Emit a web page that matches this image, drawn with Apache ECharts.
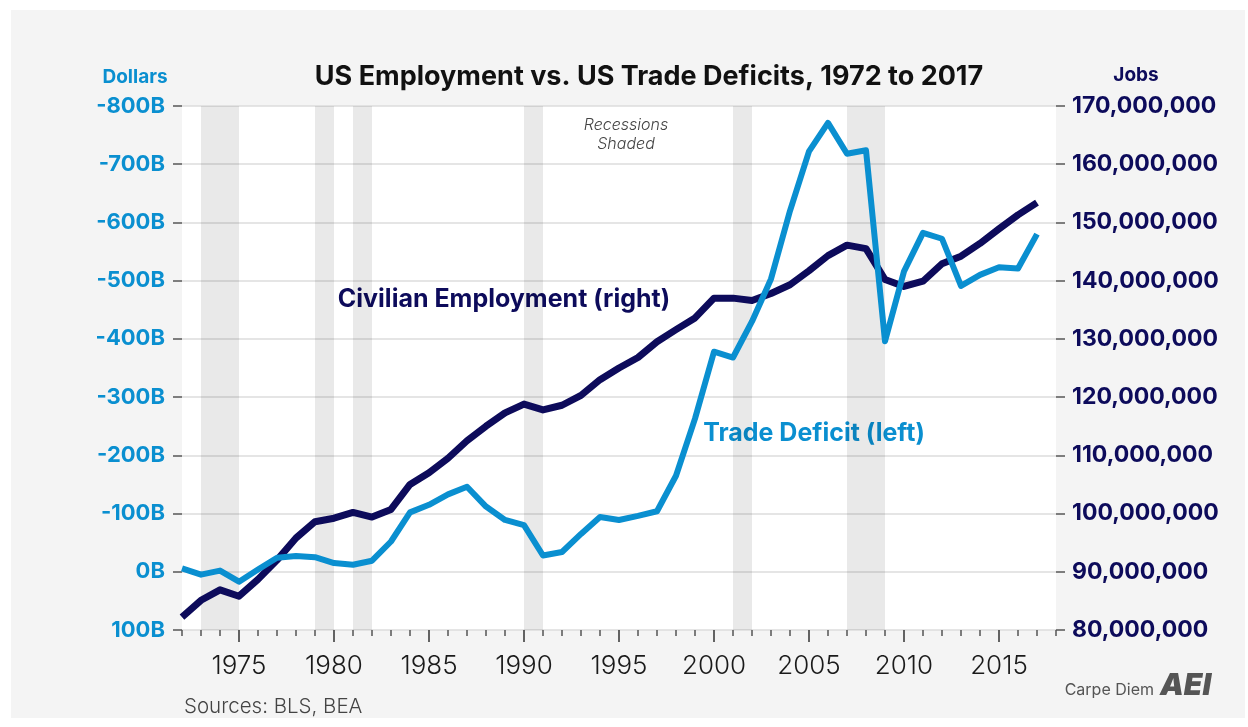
<!DOCTYPE html>
<html>
<head>
<meta charset="utf-8">
<title>US Employment vs. US Trade Deficits, 1972 to 2017</title>
<script src="https://cdn.jsdelivr.net/npm/echarts@6/dist/echarts.min.js"></script>
<style>
  html, body { margin: 0; padding: 0; background: #fff; }
  #chart { position: absolute; left: 11px; top: 10px; width: 1234px; height: 708px; }
</style>
</head>
<body>
<div id="chart"></div>
<script>
// years with data, the axis runs one more year to 2018
var years = [1972, 1973, 1974, 1975, 1976, 1977, 1978, 1979, 1980, 1981,
  1982, 1983, 1984, 1985, 1986, 1987, 1988, 1989, 1990, 1991,
  1992, 1993, 1994, 1995, 1996, 1997, 1998, 1999, 2000, 2001,
  2002, 2003, 2004, 2005, 2006, 2007, 2008, 2009, 2010, 2011,
  2012, 2013, 2014, 2015, 2016, 2017];
var axisYears = years.concat([2018]);

// trade balance, billions of dollars (negative = deficit)
var tradeBalance = [-6, 5, -2, 17, -4, -24, -27, -25, -15, -12,
  -19, -52, -102, -115, -133, -146, -112, -89, -80, -28,
  -34, -65, -94, -89, -96, -104, -165, -263, -378, -368,
  -430, -503, -620, -722, -771, -718, -724, -396, -516, -582,
  -572, -491, -510, -523, -521, -580];

// civilian employment, millions
var employment = [82.2, 85.1, 86.9, 85.8, 88.7, 92.0, 95.8, 98.6, 99.2, 100.2,
  99.4, 100.7, 105.0, 107.0, 109.5, 112.5, 115.0, 117.3, 118.8, 117.8,
  118.6, 120.3, 123.0, 125.0, 126.8, 129.5, 131.6, 133.6, 137.0, 137.0,
  136.6, 137.8, 139.3, 141.7, 144.3, 146.1, 145.5, 140.2, 139.0, 139.9,
  142.9, 144.2, 146.4, 148.9, 151.3, 153.4];

var recessions = [[1973, 1975], [1979, 1980], [1981, 1982], [1990, 1991], [2001, 2002], [2007, 2009]];

var yearLabels = [1975, 1980, 1985, 1990, 1995, 2000, 2005, 2010, 2015];
var dollarTicks = [-800, -700, -600, -500, -400, -300, -200, -100, 0, 100];
var jobTicks = [80, 90, 100, 110, 120, 130, 140, 150, 160, 170];

var OX = 11, OY = 10;   // chart div offset in the page
var FONT = 'Inter';
var NAVY = '#0d0b5b';
var BLUE = '#0a8fd0';

function withCommas(n) {
  return String(n).replace(/\B(?=(\d{3})+(?!\d))/g, ',');
}

var chart = echarts.init(document.getElementById('chart'));

var option = {
  backgroundColor: '#f4f4f4',
  animation: false,
  grid: {
    left: 182 - OX,
    right: 1234 - (1056 - OX),
    top: 106 - OY,
    bottom: 708 - (630 - OY),
    show: true,
    backgroundColor: '#fff',
    borderWidth: 0
  },
  xAxis: [
    {
      // year tick marks, drawn as small label boxes hanging under the plot
      type: 'value',
      position: 'bottom',
      min: axisYears[0],
      max: axisYears[axisYears.length - 1],
      axisLine: { show: false, onZero: false },
      axisTick: { show: false },
      axisLabel: {
        customValues: axisYears,
        margin: 0,
        formatter: function (v) {
          return yearLabels.indexOf(v) >= 0 ? '{major| }' : '{minor| }';
        },
        rich: {
          major: { width: 1.5, height: 12, lineHeight: 12, fontSize: 1, color: 'rgba(0,0,0,0)', backgroundColor: '#333' },
          minor: { width: 1.5, height: 6, lineHeight: 6, fontSize: 1, color: 'rgba(0,0,0,0)', backgroundColor: '#555' }
        }
      },
      splitLine: { show: false }
    },
    {
      // year labels every five years
      type: 'value',
      position: 'bottom',
      min: axisYears[0],
      max: axisYears[axisYears.length - 1],
      axisLine: { show: false, onZero: false },
      axisTick: { show: false },
      axisLabel: {
        customValues: yearLabels,
        formatter: function (v) { return String(v); },
        margin: 23,
        fontFamily: FONT,
        fontWeight: 300,
        fontSize: 26,
        color: '#1a1a1a'
      },
      splitLine: { show: false }
    }
  ],
  yAxis: [
    {
      type: 'value',
      position: 'left',
      inverse: true,
      min: dollarTicks[0],
      max: dollarTicks[dollarTicks.length - 1],
      interval: 100,
      axisLine: { show: false },
      axisTick: { show: true, length: 9, lineStyle: { color: '#555', width: 1.5 } },
      axisLabel: {
        margin: 17,
        formatter: function (v) { return v + 'B'; },
        fontFamily: FONT,
        fontWeight: 'bold',
        fontSize: 22,
        color: BLUE
      },
      splitLine: { show: true, lineStyle: { color: '#dcdcdc', width: 1.5 } }
    },
    {
      type: 'value',
      position: 'right',
      min: jobTicks[0],
      max: jobTicks[jobTicks.length - 1],
      interval: 10,
      axisLine: { show: false },
      axisTick: { show: true, length: 9, lineStyle: { color: '#555', width: 1.5 } },
      axisLabel: {
        margin: 16,
        formatter: function (v) { return withCommas(v * 1000000); },
        fontFamily: FONT,
        fontWeight: 'bold',
        fontSize: 23,
        color: NAVY
      },
      splitLine: { show: false }
    }
  ],
  series: [
    {
      name: 'Civilian Employment (right)',
      type: 'line',
      xAxisIndex: 0,
      yAxisIndex: 1,
      data: years.map(function (y, i) { return [y, employment[i]]; }),
      symbol: 'none',
      lineStyle: { color: NAVY, width: 7, join: 'round' },
      markArea: {
        silent: true,
        itemStyle: { color: 'rgba(0,0,0,0.085)' },
        data: recessions.map(function (r) {
          return [{ xAxis: r[0] }, { xAxis: r[1] }];
        })
      }
    },
    {
      name: 'Trade Deficit (left)',
      type: 'line',
      xAxisIndex: 0,
      yAxisIndex: 0,
      data: years.map(function (y, i) { return [y, tradeBalance[i]]; }),
      symbol: 'none',
      lineStyle: { color: BLUE, width: 6, join: 'round' }
    }
  ],
  graphic: [
    {
      type: 'text', x: 649 - OX, y: 77 - OY,
      style: {
        text: 'US Employment vs. US Trade Deficits, 1972 to 2017',
        align: 'center', verticalAlign: 'middle',
        font: 'bold 27px ' + FONT, fill: '#111'
      }
    },
    {
      type: 'text', x: 135 - OX, y: 77 - OY,
      style: { text: 'Dollars', align: 'center', verticalAlign: 'middle', font: 'bold 19px ' + FONT, fill: BLUE }
    },
    {
      type: 'text', x: 1136 - OX, y: 75 - OY,
      style: { text: 'Jobs', align: 'center', verticalAlign: 'middle', font: 'bold 19px ' + FONT, fill: NAVY }
    },
    {
      type: 'text', x: 626 - OX, y: 135 - OY,
      style: {
        text: 'Recessions\nShaded', align: 'center', verticalAlign: 'middle',
        font: 'italic 300 16px ' + FONT, lineHeight: 19, fill: '#444'
      }
    },
    {
      type: 'text', x: 504 - OX, y: 299 - OY,
      style: { text: 'Civilian Employment (right)', align: 'center', verticalAlign: 'middle', font: 'bold 25px ' + FONT, fill: NAVY }
    },
    {
      type: 'text', x: 814 - OX, y: 433 - OY,
      style: { text: 'Trade Deficit (left)', align: 'center', verticalAlign: 'middle', font: 'bold 25px ' + FONT, fill: BLUE }
    },
    {
      type: 'text', x: 184 - OX, y: 707 - OY,
      style: { text: 'Sources: BLS, BEA', align: 'left', verticalAlign: 'middle', font: '300 20.5px ' + FONT, fill: '#444' }
    },
    {
      type: 'text', x: 1154 - OX, y: 690 - OY,
      style: { text: 'Carpe Diem', align: 'right', verticalAlign: 'middle', font: '16px ' + FONT, fill: '#555' }
    },
    {
      type: 'text', x: 1160 - OX, y: 686 - OY,
      style: { text: 'AEI', align: 'left', verticalAlign: 'middle', font: 'italic 900 30px ' + FONT, fill: '#555' }
    }
  ]
};

chart.setOption(option);
</script>
</body>
</html>
